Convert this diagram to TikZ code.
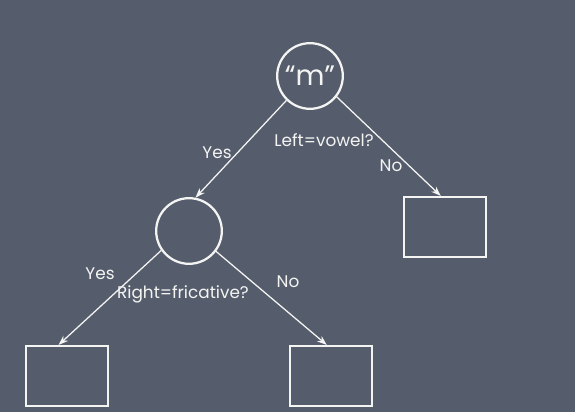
\documentclass[tikz,border=0pt]{standalone}
\usepackage{fontspec}
\setmainfont{Poppins}
\usetikzlibrary{arrows.meta}
\definecolor{colboard}{HTML}{555D6D}
\definecolor{colchalk}{HTML}{F4F4F2}

\begin{document}
\begin{tikzpicture}[x=0.025cm, y=-0.025cm,
    every node/.style={font=\fontsize{12}{14}\selectfont, text=colchalk},
    question/.style={circle, draw=colchalk, line width=1.6pt, minimum size=1.64cm, inner sep=0pt},
    leaf/.style={rectangle, draw=colchalk, line width=1.5pt, minimum width=2.05cm, minimum height=1.5cm},
    branch/.style={-{Stealth[length=7pt,width=5pt]}, colchalk, line width=0.9pt}]
  % board
  \fill[colboard] (0,0) rectangle (575,412);
  \useasboundingbox (0,0) rectangle (575,412);
  % questions and leaves
  \node[question] (m) at (310,76) {\fontsize{20}{22}\selectfont ``m''};
  \node[question] (q2) at (189,231) {};
  \node[leaf] (leafR) at (445,227) {};
  \node[leaf] (leafL) at (67,376) {};
  \node[leaf] (leafM) at (331,376) {};
  % branches
  \draw[branch] (m.226) -- (q2.79);
  \draw[branch] (m.322) -- ([xshift=-3]leafR.north);
  \draw[branch] (q2.215) -- ([xshift=-6]leafL.north);
  \draw[branch] (q2.323) -- ([xshift=-3]leafM.north);
  % labels
  \node (yes1) at (217,153) {Yes};
  \node (ask1) at (324,140) {Left=vowel?};
  \node (no1) at (391,166) {No};
  \node (yes2) at (100,274) {Yes};
  \node (ask2) at (183,294) {Right=fricative?};
  \node (no2) at (288,282) {No};
\end{tikzpicture}
\end{document}
